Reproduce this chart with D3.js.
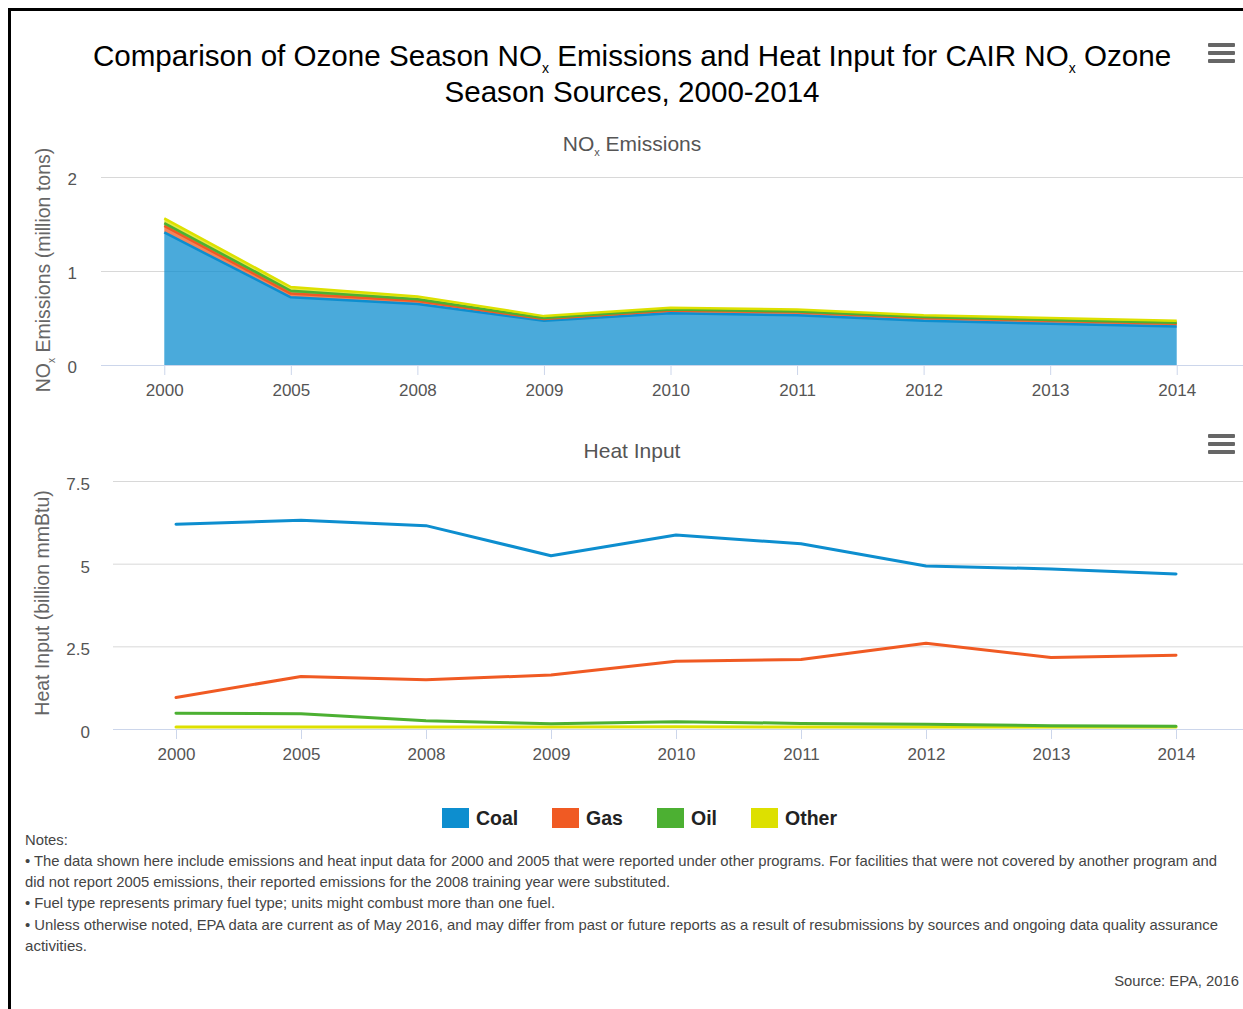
<!DOCTYPE html>
<html>
<head>
<meta charset="utf-8">
<script src="https://cdn.jsdelivr.net/npm/d3@7"></script>
<style>
  body { margin: 0; background: #fff; }
  text { font-family: "Liberation Sans", Arial, Helvetica, sans-serif; }
  .tick text { fill: #555; font-size: 17px; }
</style>
</head>
<body>
<div id="chart"></div>
<script>
// Data
var years = ["2000", "2005", "2008", "2009", "2010", "2011", "2012", "2013", "2014"];
var fuels = ["Coal", "Gas", "Oil", "Other"];
var fuelColors = ["#0d8ecf", "#f05a23", "#4cb032", "#dde000"];

// NOx emissions (million tons), stacked
var noxCoal  = [1.41, 0.72, 0.65, 0.47, 0.55, 0.53, 0.47, 0.44, 0.41];
var noxGas   = [0.07, 0.04, 0.03, 0.02, 0.03, 0.03, 0.03, 0.03, 0.03];
var noxOil   = [0.03, 0.03, 0.02, 0.01, 0.01, 0.01, 0.01, 0.01, 0.01];
var noxOther = [0.05, 0.04, 0.03, 0.02, 0.02, 0.02, 0.02, 0.02, 0.02];

// Heat input (billion mmBtu)
var heatCoal  = [6.19, 6.31, 6.15, 5.24, 5.87, 5.60, 4.93, 4.84, 4.69];
var heatGas   = [0.95, 1.59, 1.49, 1.63, 2.05, 2.10, 2.59, 2.16, 2.23];
var heatOil   = [0.48, 0.46, 0.25, 0.16, 0.22, 0.17, 0.14, 0.10, 0.08];
var heatOther = [0.06, 0.06, 0.06, 0.06, 0.07, 0.06, 0.06, 0.06, 0.06];

var noxTicks = [0, 1, 2];
var heatTicks = [0, 2.5, 5, 7.5];

var notes = [
  "• The data shown here include emissions and heat input data for 2000 and 2005 that were reported under other programs. For facilities that were not covered by another program and",
  "did not report 2005 emissions, their reported emissions for the 2008 training year were substituted.",
  "• Fuel type represents primary fuel type; units might combust more than one fuel.",
  "• Unless otherwise noted, EPA data are current as of May 2016, and may differ from past or future reports as a result of resubmissions by sources and ongoing data quality assurance",
  "activities."
];

var svgWidth = 1243;
var svgHeight = 1009;

var svg = d3.select("#chart")
  .append("svg")
  .attr("width", svgWidth)
  .attr("height", svgHeight);

// frame (top and left edges)
svg.append("path")
  .attr("d", "M9.5," + svgHeight + " V9.5 H" + svgWidth)
  .attr("fill", "none")
  .attr("stroke", "#000")
  .attr("stroke-width", 3);

// Title with subscripts
var title = svg.append("text")
  .attr("text-anchor", "middle")
  .attr("font-size", "29.6px")
  .attr("fill", "#000");
var t1 = title.append("tspan").attr("x", 632).attr("y", 66);
t1.append("tspan").text("Comparison of Ozone Season NO");
t1.append("tspan").attr("font-size", "14px").attr("dy", 7).text("x");
t1.append("tspan").attr("dy", -7).text(" Emissions and Heat Input for CAIR NO");
t1.append("tspan").attr("font-size", "14px").attr("dy", 7).text("x");
t1.append("tspan").attr("dy", -7).text(" Ozone");
title.append("tspan").attr("x", 632).attr("y", 102).text("Season Sources, 2000-2014");

// menu icons
function menuIcon(x, y) {
  [0, 8, 16].forEach(function(off) {
    svg.append("rect")
      .attr("x", x).attr("y", y + off)
      .attr("width", 27).attr("height", 4)
      .attr("rx", 1)
      .attr("fill", "#666");
  });
}
menuIcon(1208, 43);
menuIcon(1208, 434);

// shared axis styling
function styleAxis(g) {
  g.select(".domain").remove();
  g.selectAll(".tick line").attr("stroke", "#ccd6eb");
}

// ---------- Top chart: NOx emissions (stacked area) ----------
var xTop = d3.scalePoint().domain(years).range([101, 1240]).padding(0.5);
var yTop = d3.scaleLinear().domain([0, 2]).range([365, 177]);

svg.append("text")
  .attr("x", 632).attr("y", 151)
  .attr("text-anchor", "middle")
  .attr("font-size", "21px")
  .attr("fill", "#555")
  .call(function(t) {
    t.append("tspan").text("NO");
    t.append("tspan").attr("font-size", "11px").attr("dy", 5).text("x");
    t.append("tspan").attr("dy", -5).text(" Emissions");
  });

// grid
svg.append("g").selectAll("line")
  .data(noxTicks.filter(function(d) { return d > 0; }))
  .enter().append("line")
  .attr("x1", 101).attr("x2", svgWidth)
  .attr("y1", function(d) { return yTop(d) + 0.5; })
  .attr("y2", function(d) { return yTop(d) + 0.5; })
  .attr("stroke", "#d8d8d8");

var noxRows = years.map(function(y, i) {
  return { year: y, Coal: noxCoal[i], Gas: noxGas[i], Oil: noxOil[i], Other: noxOther[i] };
});
var stacked = d3.stack().keys(fuels)(noxRows);

var area = d3.area()
  .x(function(d) { return xTop(d.data.year); })
  .y0(function(d) { return yTop(d[0]); })
  .y1(function(d) { return yTop(d[1]); });
var topLine = d3.line()
  .x(function(d) { return xTop(d.data.year); })
  .y(function(d) { return yTop(d[1]); });

var layers = svg.append("g");
stacked.forEach(function(s, i) {
  layers.append("path")
    .attr("d", area(s))
    .attr("fill", fuelColors[i])
    .attr("fill-opacity", 0.75);
});
stacked.forEach(function(s, i) {
  layers.append("path")
    .attr("d", topLine(s))
    .attr("fill", "none")
    .attr("stroke", fuelColors[i])
    .attr("stroke-width", 2.5)
    .attr("stroke-linejoin", "round");
});

// x baseline + axis
svg.append("line")
  .attr("x1", 101).attr("x2", svgWidth)
  .attr("y1", 365.5).attr("y2", 365.5)
  .attr("stroke", "#ccd6eb");
svg.append("g")
  .attr("transform", "translate(0,365)")
  .call(d3.axisBottom(xTop).tickSize(10).tickPadding(9))
  .call(styleAxis);

svg.append("g")
  .attr("transform", "translate(77,2)")
  .call(d3.axisLeft(yTop).tickValues(noxTicks).tickSize(0).tickPadding(0).tickFormat(d3.format("d")))
  .call(styleAxis);

svg.append("text")
  .attr("transform", "translate(50,270) rotate(-90)")
  .attr("text-anchor", "middle")
  .attr("font-size", "19.5px")
  .attr("fill", "#666")
  .call(function(t) {
    t.append("tspan").text("NO");
    t.append("tspan").attr("font-size", "10px").attr("dy", 5).text("x");
    t.append("tspan").attr("dy", -5).text(" Emissions (million tons)");
  });

// ---------- Bottom chart: Heat input (lines) ----------
var xBot = d3.scalePoint().domain(years).range([113.5, 1238.5]).padding(0.5);
var yBot = d3.scaleLinear().domain([0, 7.5]).range([729, 481]);

svg.append("text")
  .attr("x", 632).attr("y", 458)
  .attr("text-anchor", "middle")
  .attr("font-size", "21px")
  .attr("fill", "#555")
  .text("Heat Input");

svg.append("g").selectAll("line")
  .data(heatTicks.filter(function(d) { return d > 0; }))
  .enter().append("line")
  .attr("x1", 113).attr("x2", svgWidth)
  .attr("y1", function(d) { return yBot(d) + 0.5; })
  .attr("y2", function(d) { return yBot(d) + 0.5; })
  .attr("stroke", "#d8d8d8");

svg.append("line")
  .attr("x1", 113).attr("x2", svgWidth)
  .attr("y1", 729.5).attr("y2", 729.5)
  .attr("stroke", "#ccd6eb");
svg.append("g")
  .attr("transform", "translate(0,729)")
  .call(d3.axisBottom(xBot).tickSize(10).tickPadding(9))
  .call(styleAxis);

svg.append("g")
  .attr("transform", "translate(90,3)")
  .call(d3.axisLeft(yBot).tickValues(heatTicks).tickSize(0).tickPadding(0).tickFormat(function(d) { return String(d); }))
  .call(styleAxis);

svg.append("text")
  .attr("transform", "translate(49,603) rotate(-90)")
  .attr("text-anchor", "middle")
  .attr("font-size", "19.5px")
  .attr("fill", "#666")
  .text("Heat Input (billion mmBtu)");

var heatSeries = [heatCoal, heatGas, heatOil, heatOther];
var heatLine = d3.line()
  .x(function(d, i) { return xBot(years[i]); })
  .y(function(d) { return yBot(d); });

var heatG = svg.append("g");
for (var k = heatSeries.length - 1; k >= 0; k--) {
  heatG.append("path")
    .attr("d", heatLine(heatSeries[k]))
    .attr("fill", "none")
    .attr("stroke", fuelColors[k])
    .attr("stroke-width", 3)
    .attr("stroke-linejoin", "round")
    .attr("stroke-linecap", "round");
}

// ---------- Legend ----------
var legendX = [442, 552, 657, 751];
var legend = svg.append("g");
fuels.forEach(function(f, i) {
  legend.append("rect")
    .attr("x", legendX[i]).attr("y", 808)
    .attr("width", 27).attr("height", 20)
    .attr("fill", fuelColors[i]);
  legend.append("text")
    .attr("x", legendX[i] + 34).attr("y", 825)
    .attr("font-size", "19.5px")
    .attr("font-weight", "bold")
    .attr("fill", "#222")
    .text(f);
});

// ---------- Notes ----------
svg.append("text")
  .attr("x", 25).attr("y", 845)
  .attr("font-size", "14.8px")
  .attr("fill", "#444")
  .text("Notes:");

var noteWidths = [1192, 645, 530, 1193, 62];
var noteY = [866, 887, 908, 930, 951];
notes.forEach(function(n, i) {
  svg.append("text")
    .attr("x", 25).attr("y", noteY[i])
    .attr("font-size", "14.8px")
    .attr("fill", "#444")
    .attr("textLength", noteWidths[i])
    .attr("lengthAdjust", "spacingAndGlyphs")
    .text(n);
});

svg.append("text")
  .attr("x", 1239).attr("y", 986)
  .attr("text-anchor", "end")
  .attr("font-size", "14.8px")
  .attr("fill", "#444")
  .text("Source: EPA, 2016");
</script>
</body>
</html>
